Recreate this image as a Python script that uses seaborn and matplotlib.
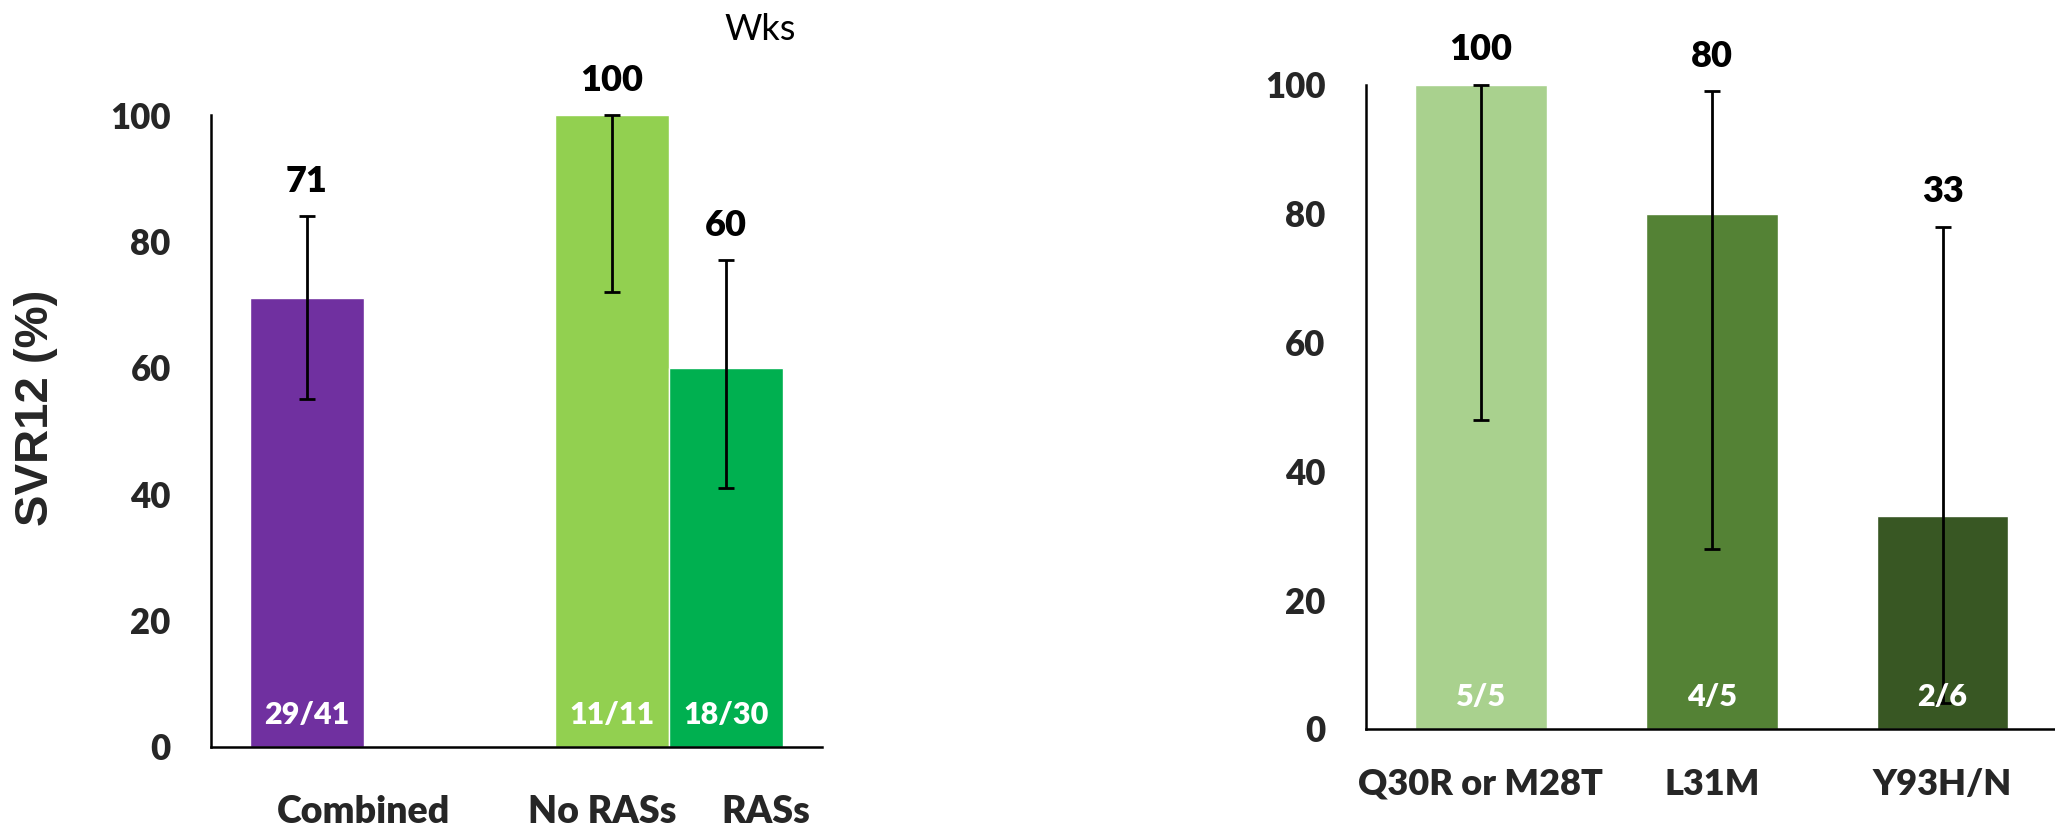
import matplotlib
matplotlib.use("Agg")
import matplotlib.pyplot as plt
import seaborn as sns
import pandas as pd
import numpy as np

# SVR12 overall and by baseline NS5A RAS status
overall_groups = ["Combined", "No RASs", "RASs"]
overall_svr = [71, 100, 60]
overall_ci_low = [55, 72, 41]
overall_ci_high = [84, 100, 77]
overall_counts = ["29/41", "11/11", "18/30"]

# SVR12 by individual baseline RAS
ras_groups = ["Q30R or M28T", "L31M", "Y93H/N"]
ras_svr = [100, 80, 33]
ras_ci_low = [48, 28, 4]
ras_ci_high = [100, 99, 78]
ras_counts = ["5/5", "4/5", "2/6"]

y_ticks = [0, 20, 40, 60, 80, 100]

# layout: bar positions and category label positions on the left panel
left_bar_x = [0.0, 2.68, 3.68]
left_label_x = [0.5, 2.59, 4.03]
left_colors = ["#7030A0", "#92D050", "#00B050"]
right_colors = ["#A9D18E", "#548235", "#385723"]

WEIGHT = "heavy"

sns.set_style("white")
plt.rcParams["font.family"] = ["Lato", "DejaVu Sans"]

fig = plt.figure(figsize=(20.55, 8.34), dpi=100)
ax1 = fig.add_axes([0.1027, 0.1047, 0.2972, 0.7574])
ax2 = fig.add_axes([0.6647, 0.1259, 0.3353, 0.7722])


def style_axis(ax, xlabel_pad, label_size):
    for side in ("top", "right"):
        ax.spines[side].set_visible(False)
    for side in ("left", "bottom"):
        ax.spines[side].set_color("black")
        ax.spines[side].set_linewidth(1.8)
    ax.set_ylim(0, 100)
    ax.set_yticks(y_ticks)
    ax.tick_params(axis="y", which="major", direction="out", length=10,
                   width=1.5, color="#7f7f7f", pad=19, labelsize=25)
    ax.tick_params(axis="x", length=0, pad=xlabel_pad, labelsize=label_size)
    for lbl in ax.get_yticklabels() + ax.get_xticklabels():
        lbl.set_fontweight(WEIGHT)
    ax.set_xlabel("")
    ax.grid(False)


def annotate(ax, xs, vals, highs, counts):
    for x, v, hi, c in zip(xs, vals, highs, counts):
        ax.text(x, hi + 5.5, f"{v}", ha="center", va="center", fontsize=26,
                fontweight=WEIGHT, color="black", clip_on=False, zorder=6)
        ax.text(x, 5.0, c, ha="center", va="center", fontsize=22,
                fontweight=WEIGHT, color="white", zorder=6)


def draw_errors(ax, xs, vals, lows, highs):
    ax.errorbar(xs, vals,
                yerr=[np.subtract(vals, lows), np.subtract(highs, vals)],
                fmt="none", ecolor="black", elinewidth=2.0, capsize=5.5,
                capthick=2.0, zorder=5, clip_on=False)


# Left panel: overall and by RAS presence
df_left = pd.DataFrame({"x": left_bar_x, "group": overall_groups, "svr": overall_svr})
sns.barplot(data=df_left, x="x", y="svr", hue="group",
            palette=dict(zip(overall_groups, left_colors)), native_scale=True,
            width=1.0, errorbar=None, saturation=1, legend=False, ax=ax1)
draw_errors(ax1, left_bar_x, overall_svr, overall_ci_low, overall_ci_high)
annotate(ax1, left_bar_x, overall_svr, overall_ci_high, overall_counts)
ax1.set_xlim(-0.838, 4.52)
ax1.set_xticks(left_label_x)
ax1.set_xticklabels(overall_groups)
style_axis(ax1, xlabel_pad=35, label_size=27)
ax1.set_ylabel("SVR12 (%)", fontfamily=["Liberation Sans", "DejaVu Sans"],
               fontweight="bold", fontsize=34)
ax1.yaxis.set_label_coords(-0.25, 0.536)

fig.text(0.370, 0.965, "Wks", ha="center", va="center", fontsize=26,
         color="black")

# Right panel: individual RASs
df_right = pd.DataFrame({"group": ras_groups, "svr": ras_svr})
sns.barplot(data=df_right, x="group", y="svr", hue="group",
            palette=dict(zip(ras_groups, right_colors)), order=ras_groups,
            width=0.571, errorbar=None, saturation=1, legend=False, ax=ax2)
draw_errors(ax2, list(range(len(ras_groups))), ras_svr, ras_ci_low, ras_ci_high)
annotate(ax2, range(len(ras_groups)), ras_svr, ras_ci_high, ras_counts)
ax2.set_xlim(-0.498, 2.487)
style_axis(ax2, xlabel_pad=28, label_size=26)
ax2.set_ylabel("")

fig.savefig("out.png", dpi=100, facecolor="white")
